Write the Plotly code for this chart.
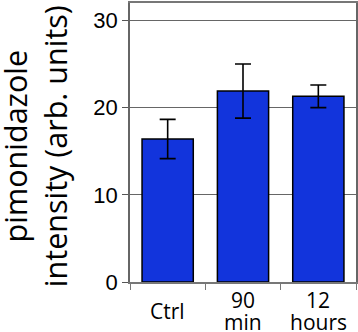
import plotly.graph_objects as go

categories = ["Ctrl", "90 min", "12 hours"]
tick_lines = [["Ctrl"], ["90", "min"], ["12", "hours"]]
values = [16.4, 21.9, 21.3]
errors = [2.25, 3.1, 1.3]
y_ticks = [0, 10, 20, 30]
y_title = "pimonidazole<br>intensity (arb. units)"

fig = go.Figure()
fig.add_trace(go.Bar(
    x=categories, y=values, width=0.68,
    marker=dict(color="#1234DC", line=dict(color="black", width=1.5)),
    error_y=dict(type="data", array=errors, visible=True, color="black",
                 thickness=1.6, width=8),
))

annotations = []
for cat, lines in zip(categories, tick_lines):
    n = len(lines)
    for i, line in enumerate(lines):
        shift = -((i - (n - 1) / 2) * 22)
        annotations.append(dict(
            x=cat, xref="x", y=0, yref="paper", yanchor="middle",
            yshift=-29 + shift, text=line, showarrow=False,
            font=dict(family="Open Sans", size=21, color="black"),
        ))
annotations.append(dict(
    x=-0.422, xref="paper", y=0.5, yref="paper", xanchor="center",
    yanchor="middle", yshift=-4, textangle=-90, text=y_title,
    showarrow=False, font=dict(family="Open Sans", size=30.5, color="black"),
))

fig.update_layout(
    width=358, height=332,
    margin=dict(l=130, r=2, t=3, b=50),
    paper_bgcolor="white", plot_bgcolor="white",
    showlegend=False,
    annotations=annotations,
    xaxis=dict(
        showticklabels=False, ticks="outside", ticklen=6, tickcolor="#777",
        tickson="boundaries", showline=True, linecolor="#777", linewidth=1.5,
        mirror=True, showgrid=False, automargin=False,
    ),
    yaxis=dict(
        range=[0, 32], tickvals=y_ticks, ticks="outside", ticklen=6,
        tickcolor="#555", showline=True, linecolor="#666", linewidth=1.5,
        mirror=True, showgrid=True, gridcolor="#666", gridwidth=1.2,
        zeroline=False, automargin=False,
        tickfont=dict(family="Liberation Sans", size=22, color="black"),
    ),
)

fig.write_html(
    "out.html",
    config={"displayModeBar": False},
    post_script="document.body.style.margin='0';document.body.style.overflow='hidden';",
)
